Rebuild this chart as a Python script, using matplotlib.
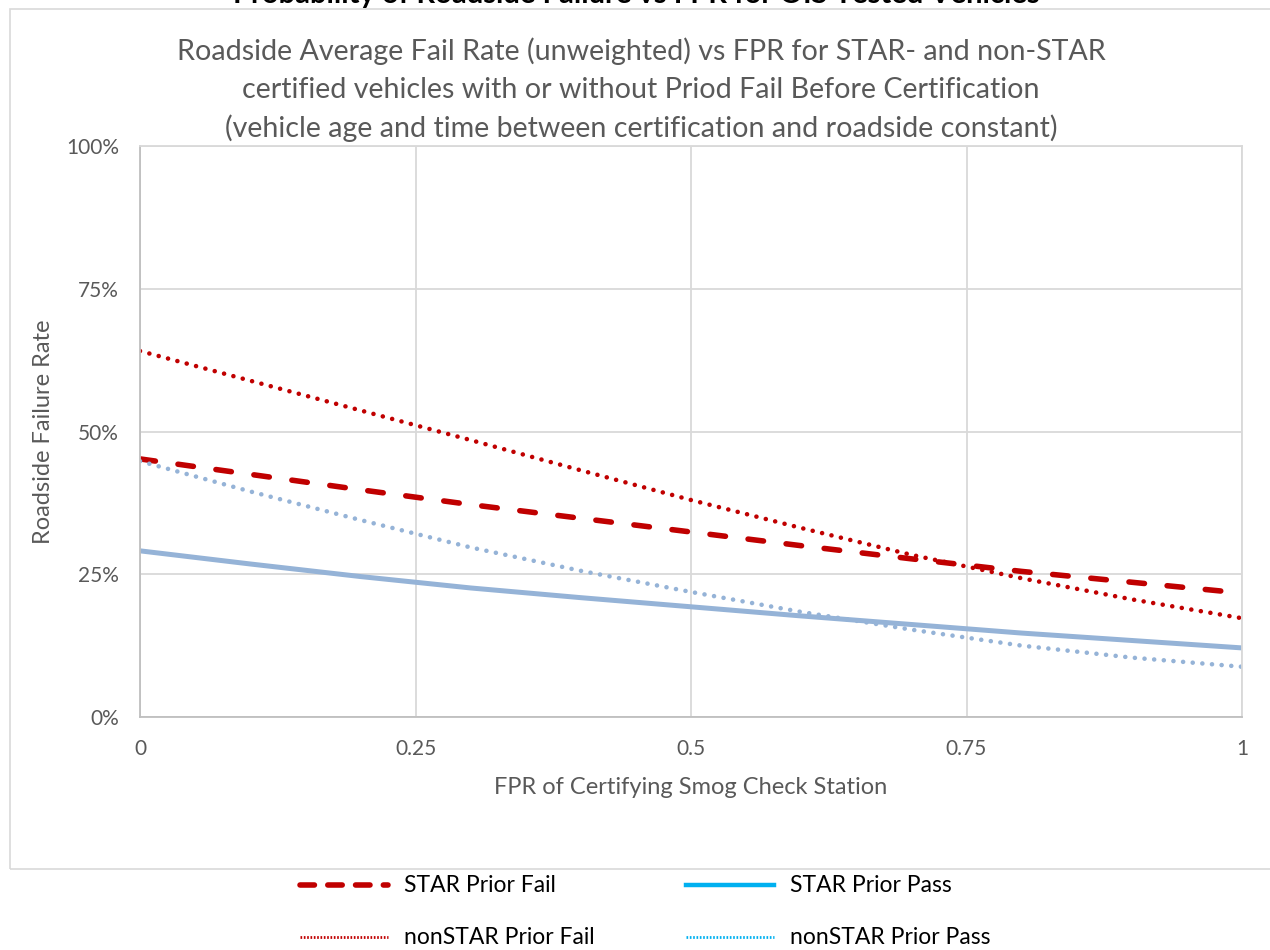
import matplotlib
matplotlib.use("Agg")
import matplotlib.pyplot as plt
from matplotlib.lines import Line2D
from matplotlib.patches import Rectangle
from matplotlib.ticker import PercentFormatter

plt.rcParams['font.family'] = ['Lato', 'DejaVu Sans']

# FPR of certifying station
fpr = [0.0, 0.1, 0.2, 0.3, 0.4, 0.5, 0.6, 0.7, 0.8, 0.9, 1.0]

# roadside failure rate (fraction)
star_fail = [0.452, 0.425, 0.398, 0.372, 0.348, 0.324, 0.300, 0.277, 0.255, 0.236, 0.217]
star_pass = [0.291, 0.268, 0.246, 0.226, 0.209, 0.193, 0.177, 0.162, 0.147, 0.134, 0.121]
nonstar_fail = [0.641, 0.589, 0.537, 0.485, 0.432, 0.380, 0.331, 0.284, 0.243, 0.206, 0.173]
nonstar_pass = [0.448, 0.395, 0.345, 0.297, 0.256, 0.219, 0.184, 0.153, 0.125, 0.104, 0.088]

x_ticks = [0, 0.25, 0.5, 0.75, 1]
x_ticklabels = ['0', '0.25', '0.5', '0.75', '1']
y_ticks = [0, 0.25, 0.5, 0.75, 1.0]

title_lines = ['Roadside Average Fail Rate (unweighted) vs FPR for STAR- and non-STAR',
               'certified vehicles with or without Priod Fail Before Certification',
               '(vehicle age and time between certification and roadside constant)']

red = '#C00000'
blue = '#95B3D7'
cyan = '#00B0F0'
grid = '#D9D9D9'
txt = '#595959'

W, H = 1270, 950
fig = plt.figure(figsize=(12.7, 9.5), dpi=100)

# chart area border
fig.add_artist(Rectangle((10 / W, 1 - 869 / H), 1.0, (869 - 9) / H,
                         transform=fig.transFigure, fill=False,
                         edgecolor=grid, linewidth=1.2))

# cut-off main title (only its lower edge shows in the picture)
fig.text(636 / W, 1 - 3 / H, 'Probability of Roadside Failure vs FPR for OIS Tested Vehicles',
         ha='center', va='baseline', fontsize=21, fontweight='bold', color='black')

ax = fig.add_axes([140 / W, 1 - 717 / H, (1242 - 140) / W, (717 - 146) / H])

dot = (0, (0.01, 2.1))
ax.plot(fpr, star_fail, color=red, linewidth=4.0, linestyle=(0, (2.8, 4.1)),
        dash_capstyle='round')
ax.plot(fpr, nonstar_fail, color=red, linewidth=3.3, linestyle=dot,
        dash_capstyle='round')
ax.plot(fpr, star_pass, color=blue, linewidth=3.6)
ax.plot(fpr, nonstar_pass, color=blue, linewidth=3.3, linestyle=dot,
        dash_capstyle='round')

ax.set_xlim(0, 1)
ax.set_ylim(0, 1)
ax.set_xticks(x_ticks)
ax.set_xticklabels(x_ticklabels)
ax.set_yticks(y_ticks)
ax.yaxis.set_major_formatter(PercentFormatter(1.0, decimals=0))
ax.grid(True, color=grid, linewidth=1.3)
ax.set_axisbelow(True)
for s in ax.spines.values():
    s.set_color(grid)
    s.set_linewidth(1.3)
ax.spines['left'].set_color('#BFBFBF')
ax.spines['bottom'].set_color('#BFBFBF')
ax.tick_params(length=0, labelsize=15, colors=txt)
ax.tick_params(axis='y', pad=15)
ax.tick_params(axis='x', pad=16)

ax.set_xlabel('FPR of Certifying Smog Check Station', fontsize=17, color=txt, labelpad=13)
ax.set_ylabel('Roadside Failure Rate', fontsize=17, color=txt, labelpad=9)

for i, line in enumerate(title_lines):
    fig.text(641 / W, 1 - (51 + 38.5 * i) / H, line, ha='center', va='center',
             fontsize=20.6, color=txt)

# legend, drawn below the chart box
leg = [
    ('STAR Prior Fail', red, dict(linewidth=4.0, linestyle=(0, (2.6, 2.4)), dash_capstyle='round'), 300, 885),
    ('STAR Prior Pass', cyan, dict(linewidth=3.2), 686, 885),
    ('nonSTAR Prior Fail', red, dict(linewidth=2.0, linestyle=(0, (0.6, 0.6))), 300, 937),
    ('nonSTAR Prior Pass', cyan, dict(linewidth=2.0, linestyle=(0, (0.6, 0.6))), 686, 937),
]
for label, col, kw, lx, ly in leg:
    fig.add_artist(Line2D([lx / W, (lx + 88) / W], [1 - ly / H, 1 - ly / H],
                          transform=fig.transFigure, color=col, **kw))
    fig.text((lx + 104) / W, 1 - ly / H, label, ha='left', va='center',
             fontsize=16.5, color='black')

fig.savefig('out.png', dpi=100)
